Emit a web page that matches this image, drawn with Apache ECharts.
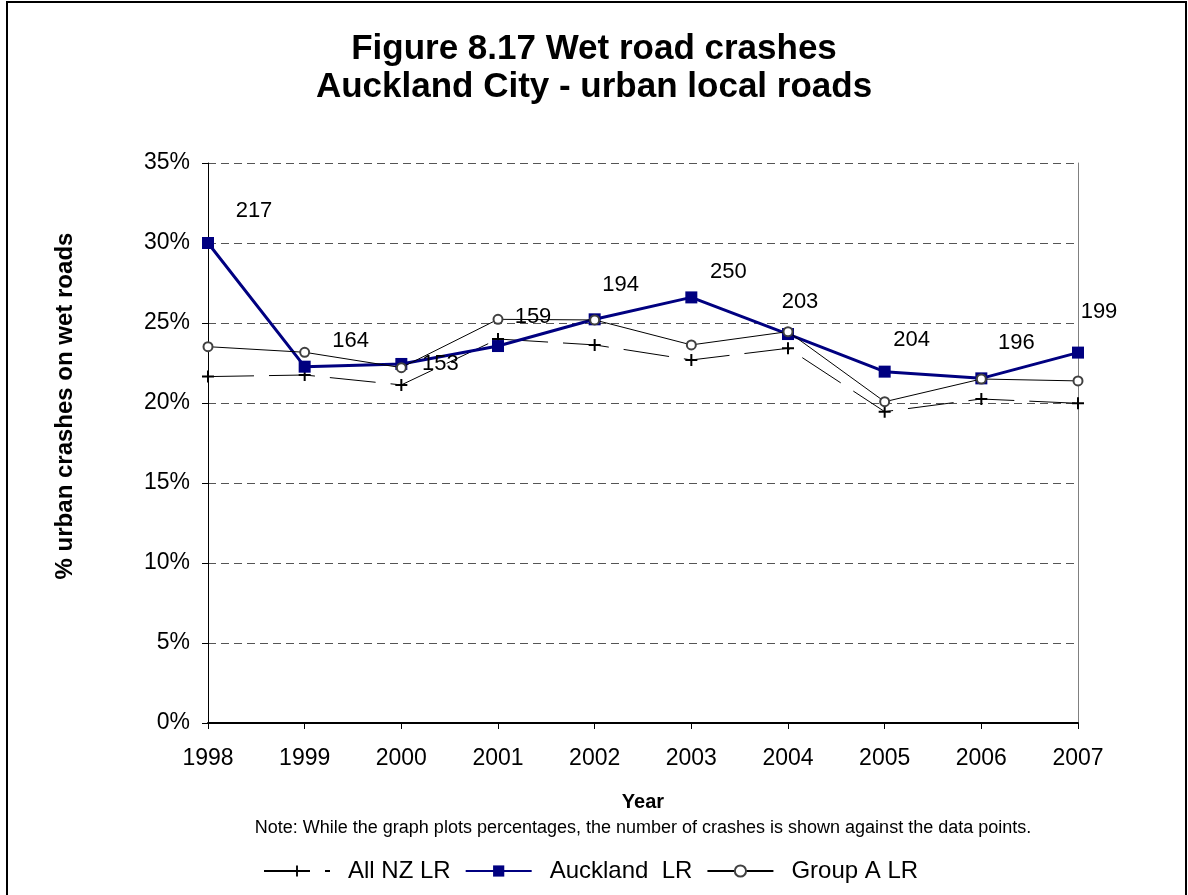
<!DOCTYPE html>
<html>
<head>
<meta charset="utf-8">
<script src="https://cdn.jsdelivr.net/npm/echarts@6/dist/echarts.min.js"></script>
<style>
html,body{margin:0;padding:0;background:#fff;}
#chart{width:1188px;height:895px;}
</style>
</head>
<body>
<div id="chart"></div>
<script>
const years = ['1998','1999','2000','2001','2002','2003','2004','2005','2006','2007'];
const allNZ = [21.65, 21.75, 21.13, 24.0, 23.63, 22.69, 23.42, 19.46, 20.25, 19.98];
const auckland = [30.0, 22.27, 22.44, 23.56, 25.23, 26.6, 24.31, 21.96, 21.54, 23.15];
const groupA = [23.52, 23.17, 22.21, 25.23, 25.19, 23.63, 24.46, 20.08, 21.5, 21.38];
const crashCounts = [217, 164, 153, 159, 194, 250, 203, 204, 196, 199];
const yTicks = [0, 5, 10, 15, 20, 25, 30, 35];

// label placement (style, not data)
const labelOffsets = [[46,-32],[46,-26],[39,0],[35,-29],[26,-34],[37,-25],[12,-32],[27,-32],[35,-35],[21,-41]];

const FONT = 'Liberation Sans, Arial, sans-serif';
const chart = echarts.init(document.getElementById('chart'), null, {renderer:'canvas'});

const plusPath = 'path://M-1,-6 L1,-6 L1,-1 L6,-1 L6,1 L1,1 L1,6 L-1,6 L-1,1 L-6,1 L-6,-1 L-1,-1 Z';

const aucklandData = auckland.map((v, i) => ({
  value: v,
  label: {
    show: true,
    formatter: String(crashCounts[i]),
    position: 'inside',
    offset: labelOffsets[i],
    color: '#000',
    fontSize: 22,
    fontFamily: FONT
  }
}));

chart.setOption({
  animation: false,
  backgroundColor: '#fff',
  title: {
    text: 'Figure 8.17 Wet road crashes\nAuckland City - urban local roads',
    left: 'center',
    top: 25,
    textStyle: {fontFamily: FONT, fontWeight: 'bold', fontSize: 35, lineHeight: 38, color: '#000'}
  },
  graphic: [
    {type:'rect', shape:{x:7, y:2, width:1179, height:1000}, style:{fill:'none', stroke:'#000', lineWidth:2}, silent:true},
    {type:'text', x:65, y:406, rotation: Math.PI/2,
      style:{text:'% urban crashes on wet roads', font:'bold 24px ' + FONT, fill:'#000', align:'center', verticalAlign:'middle'}},
    {type:'text', x:643, y:828,
      style:{text:'Note: While the graph plots percentages, the number of crashes is shown against the data points.', font:'18px ' + FONT, fill:'#000', align:'center', verticalAlign:'middle'}}
  ],
  legend: {
    left: 258,
    top: 854,
    itemWidth: 66,
    itemHeight: 14,
    itemGap: 14,
    textStyle: {fontFamily: FONT, fontSize: 24, color: '#000', padding: [0, 0, 0, 13]},
    data: ['All NZ LR', 'Auckland  LR', 'Group A LR']
  },
  grid: {left: 208, right: 110, top: 163, bottom: 172},
  xAxis: {
    type: 'category',
    data: years,
    boundaryGap: false,
    name: 'Year',
    nameLocation: 'middle',
    nameGap: 69,
    nameTextStyle: {fontFamily: FONT, fontWeight: 'bold', fontSize: 20, color: '#000'},
    axisLine: {lineStyle: {color: '#000', width: 2}},
    axisTick: {show: true, inside: false, length: 6, alignWithLabel: true, lineStyle: {color: '#000'}},
    axisLabel: {fontFamily: FONT, fontSize: 23, color: '#000', margin: 24},
    splitLine: {show: false}
  },
  yAxis: [{
    type: 'value',
    min: 0, max: 35, interval: 5,
    axisLine: {show: true, lineStyle: {color: '#000', width: 1}},
    axisTick: {show: true, length: 6, lineStyle: {color: '#000'}},
    axisLabel: {fontFamily: FONT, fontSize: 23, color: '#000', margin: 18,
      formatter: v => yTicks.includes(v) ? v + '%' : ''},
    splitLine: {show: true, lineStyle: {color: '#555', type: [8, 5], width: 1}}
  }, {
    type: 'value',
    position: 'right',
    min: 0, max: 35, interval: 5,
    axisLine: {show: true, lineStyle: {color: '#808080', width: 1}},
    axisTick: {show: false},
    axisLabel: {show: false},
    splitLine: {show: false}
  }],
  series: [
    {
      name: 'All NZ LR',
      type: 'line',
      data: allNZ,
      symbol: plusPath,
      symbolSize: 12,
      itemStyle: {color: '#000'},
      lineStyle: {color: '#000', width: 1, type: [46, 15]},
      z: 2
    },
    {
      name: 'Auckland  LR',
      type: 'line',
      data: aucklandData,
      symbol: 'rect',
      symbolSize: 12,
      itemStyle: {color: '#000080'},
      lineStyle: {color: '#000080', width: 3},
      z: 3
    },
    {
      name: 'Group A LR',
      type: 'line',
      data: groupA,
      symbol: 'emptyCircle',
      symbolSize: 9,
      itemStyle: {color: '#404040', borderColor: '#404040', borderWidth: 2},
      lineStyle: {color: '#000', width: 1},
      z: 4
    }
  ]
});
</script>
</body>
</html>
